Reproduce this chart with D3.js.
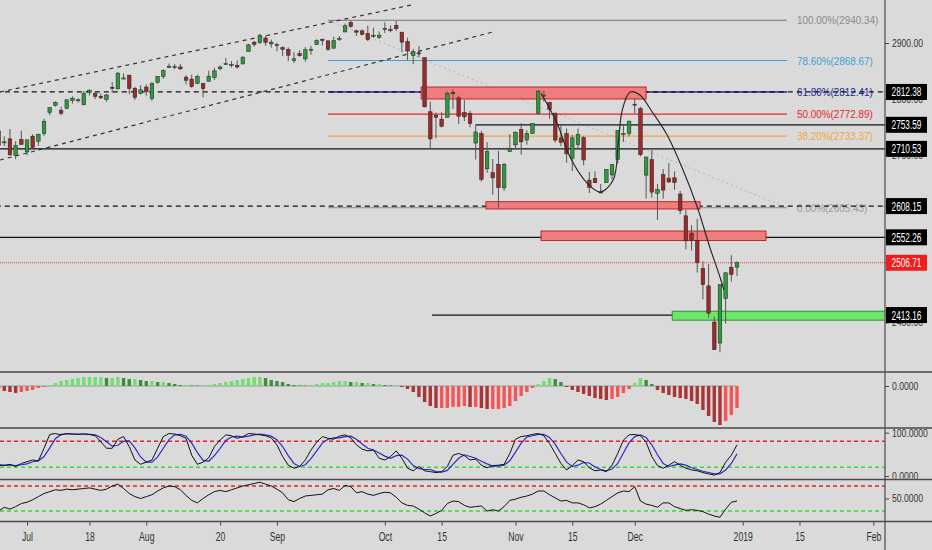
<!DOCTYPE html>
<html lang="en">
 <head>
  <meta charset="UTF-8">
  <title>SPX daily</title>
  <style>
   body { margin: 0; background: #dadada; overflow: hidden; }
   svg { display: block; }
   text { font-family: "Liberation Sans", Arial, sans-serif; }
  </style>
 </head>
 <body>
<svg id="chart" width="932" height="550"></svg>

<script src="https://d3js.org/d3.v7.min.js" charset="utf-8"></script>
<script>

// ---- data (daily bars, Jun 25 2018 .. Dec 31 2018) ----
var dates = ["06-25","06-26","06-27","06-28","06-29",
 "07-02","07-03","07-05","07-06","07-09","07-10","07-11","07-12","07-13","07-16",
 "07-17","07-18","07-19","07-20","07-23","07-24","07-25","07-26","07-27","07-30",
 "07-31","08-01","08-02","08-03","08-06","08-07","08-08","08-09","08-10","08-13",
 "08-14","08-15","08-16","08-17","08-20","08-21","08-22","08-23","08-24","08-27",
 "08-28","08-29","08-30","08-31","09-04","09-05","09-06","09-07","09-10","09-11",
 "09-12","09-13","09-14","09-17","09-18","09-19","09-20","09-21","09-24","09-25",
 "09-26","09-27","09-28","10-01","10-02","10-03","10-04","10-05","10-08","10-09",
 "10-10","10-11","10-12","10-15","10-16","10-17","10-18","10-19","10-22","10-23",
 "10-24","10-25","10-26","10-29","10-30","10-31","11-01","11-02","11-05","11-06",
 "11-07","11-08","11-09","11-12","11-13","11-14","11-15","11-16","11-19","11-20",
 "11-21","11-23","11-26","11-27","11-28","11-29","11-30","12-03","12-04","12-06",
 "12-07","12-10","12-11","12-12","12-13","12-14","12-17","12-18","12-19","12-20",
 "12-21","12-24","12-26","12-27","12-28","12-31"];

var opens = [2742.9,2722.1,2728.5,2698.7,2727.1,
 2705.0,2733.3,2724.2,2737.7,2775.6,2788.6,2779.8,2783.1,2796.9,2797.4,
 2789.3,2811.4,2809.4,2804.6,2799.2,2820.7,2817.7,2835.5,2842.4,2819.0,
 2809.7,2821.2,2800.5,2829.6,2840.3,2855.9,2856.8,2857.2,2838.9,2835.5,
 2827.9,2828.0,2831.4,2838.3,2853.9,2861.5,2861.0,2860.3,2862.4,2884.7,
 2901.5,2900.6,2908.9,2898.4,2897.0,2891.6,2888.6,2868.3,2881.4,2871.6,
 2888.3,2896.9,2906.4,2903.8,2890.7,2906.6,2919.7,2936.8,2921.8,2921.8,
 2917.0,2911.7,2910.0,2926.3,2923.8,2931.7,2919.4,2902.5,2877.5,2882.5,
 2873.9,2776.9,2770.5,2763.8,2767.1,2811.7,2802.0,2775.7,2773.9,2721.0,
 2737.9,2674.9,2667.9,2682.7,2640.7,2705.6,2717.6,2745.5,2726.4,2738.4,
 2774.1,2806.4,2794.1,2773.9,2730.1,2737.9,2693.5,2718.5,2730.7,2654.6,
 2657.7,2633.4,2650.0,2663.8,2691.5,2737.0,2737.8,2790.5,2782.4,2663.5,
 2691.3,2630.9,2664.4,2658.2,2658.7,2629.7,2590.8,2559.9,2547.1,2496.8,
 2465.4,2400.6,2363.1,2442.5,2498.8,2498.9];

var highs = [2742.9,2732.9,2746.1,2724.3,2743.3,
 2727.3,2736.6,2737.8,2764.4,2784.7,2795.6,2785.9,2799.2,2804.5,2801.2,
 2814.2,2816.8,2812.1,2809.7,2808.6,2830.0,2848.0,2845.6,2843.2,2821.7,
 2824.5,2825.8,2829.9,2840.4,2853.3,2863.4,2862.4,2862.5,2842.2,2843.4,
 2843.1,2828.0,2850.5,2855.6,2859.8,2873.2,2867.5,2868.8,2876.2,2898.3,
 2903.8,2916.5,2912.5,2906.3,2900.2,2894.2,2892.1,2883.8,2886.9,2892.5,
 2894.7,2906.8,2908.3,2904.7,2911.2,2912.4,2934.8,2940.9,2923.8,2924.0,
 2931.2,2927.2,2920.5,2937.1,2931.4,2939.9,2919.8,2909.6,2889.5,2894.8,
 2874.0,2795.1,2775.8,2776.0,2813.5,2816.9,2806.0,2797.8,2778.9,2753.6,
 2742.6,2722.7,2692.4,2706.9,2685.4,2736.7,2741.7,2756.6,2744.3,2756.8,
 2815.2,2814.8,2794.1,2776.0,2754.6,2746.8,2735.4,2746.8,2733.2,2669.4,
 2670.7,2647.6,2674.4,2682.5,2744.0,2753.8,2760.9,2800.2,2785.9,2696.2,
 2708.5,2647.5,2674.4,2685.4,2670.2,2635.1,2601.1,2574.0,2585.3,2509.6,
 2504.4,2410.3,2467.8,2489.1,2520.3,2509.2];

var lows = [2698.7,2715.6,2699.4,2692.0,2718.0,
 2699.0,2711.2,2716.0,2733.5,2770.7,2786.2,2770.8,2781.5,2791.7,2793.4,
 2789.2,2805.9,2799.8,2800.0,2795.1,2811.1,2817.7,2835.3,2808.3,2798.1,
 2808.1,2805.9,2796.3,2827.4,2836.0,2855.9,2853.1,2852.0,2825.8,2819.9,
 2826.6,2802.5,2831.4,2833.7,2850.6,2861.3,2856.1,2854.0,2862.4,2884.7,
 2893.5,2898.4,2895.2,2891.7,2885.1,2876.9,2867.3,2864.1,2875.9,2866.8,
 2879.2,2896.4,2895.8,2886.2,2890.4,2903.8,2919.7,2927.1,2912.6,2913.7,
 2903.3,2909.3,2907.5,2917.9,2919.4,2921.4,2883.9,2869.3,2862.1,2874.3,
 2784.9,2710.5,2729.4,2749.0,2766.9,2781.8,2755.2,2760.3,2749.2,2691.4,
 2651.9,2667.8,2628.2,2603.5,2635.3,2705.6,2708.9,2700.4,2717.9,2737.1,
 2774.1,2795.0,2764.2,2722.0,2715.0,2685.8,2670.8,2712.2,2681.1,2631.5,
 2649.8,2631.1,2650.0,2655.9,2684.4,2722.9,2732.8,2773.4,2697.2,2621.5,
 2623.1,2583.2,2621.3,2650.3,2637.3,2593.8,2530.5,2528.7,2489.0,2441.2,
 2408.6,2351.1,2346.6,2397.9,2472.9,2482.8];

var closes = [2717.1,2723.1,2699.6,2716.3,2718.4,
 2726.7,2713.2,2736.6,2759.8,2784.2,2793.8,2774.0,2798.3,2801.3,2798.4,
 2809.6,2815.6,2804.5,2801.8,2807.0,2820.4,2846.1,2837.4,2818.8,2802.6,
 2816.3,2813.4,2827.2,2840.4,2850.4,2858.5,2857.7,2853.6,2833.3,2821.9,
 2840.0,2818.4,2840.7,2850.1,2857.1,2863.0,2861.8,2857.0,2874.7,2896.7,
 2897.5,2914.0,2901.1,2901.5,2896.7,2888.6,2878.1,2871.7,2877.1,2887.9,
 2888.9,2904.2,2905.0,2888.8,2904.3,2908.0,2930.8,2929.7,2919.4,2915.6,
 2906.0,2914.0,2914.0,2924.6,2923.4,2925.5,2901.6,2885.6,2884.4,2880.3,
 2785.7,2728.4,2767.1,2750.8,2809.9,2809.2,2768.8,2767.8,2755.9,2740.7,
 2656.1,2705.6,2658.7,2641.3,2682.6,2711.7,2740.4,2723.1,2738.3,2755.5,
 2813.9,2806.8,2781.0,2726.2,2722.2,2701.6,2730.2,2736.3,2690.7,2641.9,
 2649.9,2632.6,2673.5,2682.2,2743.8,2737.8,2760.2,2790.4,2700.1,2696.0,
 2633.1,2637.7,2636.8,2651.1,2650.5,2600.0,2545.9,2546.2,2507.0,2467.4,
 2416.6,2351.1,2467.7,2488.8,2485.7,2506.9];

// MACD histogram, stochastic %K / %D, RSI (one value per bar)
var macdHist = [-3,-5,-6,-7,-6,
 -5,-4,-2,-1,1,3,5,6,7,8,
 9,9,9,9,8,8,9,8,7,7,
 6,5,5,4,4,3,2,1,1,0.5,
 0.3,0.5,1,2,3,4,5,6,7,8,
 9,9,8,6,5,4,2,1,0.5,0.3,
 1,2,3,3,4,5,5,4,4,3,
 3,2,2,1,0.5,0.5,-1,-3,-6,-11,
 -16,-20,-22,-22,-22,-21,-21,-20,-21,-21,
 -22,-23,-23,-23,-22,-20,-15,-10,-6,-2,
 2,5,8,7,4,-1,-4,-6,-8,-10,
 -12,-13,-14,-13,-11,-7,-3,3,8,6,
 2,-4,-7,-9,-11,-12,-13,-15,-18,-24,
 -30,-36,-39,-35,-29,-22];

var stochK = [25,24,27,22,29,
 33,37,35,64,96,98,95,98,97,96,
 97,96,93,79,64,64,85,91,68,37,
 27,32,37,64,91,98,97,93,87,48,
 27,32,42,68,83,95,93,87,91,98,
 97,95,93,88,72,45,25,18,22,37,
 60,78,91,87,85,92,95,88,72,62,
 58,60,41,37,45,58,41,18,12,22,
 12,10,8,10,22,48,52,47,37,39,
 25,19,24,25,27,52,85,91,93,96,
 98,93,75,52,29,14,24,37,33,19,
 12,14,10,25,52,83,95,96,93,78,
 45,24,18,25,33,25,18,14,12,8,
 5,2,8,32,48,72];

var stochD = [26,25,25,24,26,
 28,33,35,45,65,86,96,97,97,97,
 97,96,95,89,79,69,71,80,81,65,
 44,32,32,44,64,84,95,96,92,76,
 54,36,34,47,64,82,90,92,90,92,
 95,97,95,92,84,68,47,29,22,26,
 40,58,76,85,88,88,91,92,85,74,
 64,60,53,46,41,47,48,39,24,17,
 15,15,10,9,13,27,41,49,45,41,
 34,28,23,23,25,35,55,76,90,93,
 96,96,89,73,52,32,22,25,31,30,
 21,15,12,16,29,53,77,91,95,89,
 72,49,29,22,25,28,25,19,15,11,
 8,5,5,14,29,51];

var rsi = [30,36,33,37,42,
 44,48,53,58,61,64,63,65,64,65,
 66,67,65,63,65,70,73,66,58,53,
 50,53,56,62,67,70,69,64,55,47,
 43,50,56,61,63,61,64,67,70,72,
 74,76,73,70,65,59,48,45,50,54,
 55,56,57,64,66,63,71,69,59,61,
 57,55,58,60,59,52,43,39,38,33,
 27,22,26,31,42,46,45,39,36,37,
 38,30,32,30,37,47,49,52,54,57,
 62,62,56,51,46,47,43,43,40,35,
 37,41,47,53,59,62,61,69,46,41,
 39,36,43,43,37,34,31,32,31,29,
 25,22,20,33,44,46];

// time axis labels (bar positions, future bars counted as weekdays)
var tickPos  = [5, 16, 26, 39, 49, 68, 78, 91, 101, 112, 131, 141, 154];
var tickText = ["Jul","18","Aug","20","Sep","Oct","15","Nov","15","Dec","2019","15","Feb"];
// 2500 / 2600 sit fully under the level boxes, so only these show
var priceTicks = [2400, 2700, 2800, 2900];

// fibonacci retracement drawn between two anchors
var fibStart = 58.0, fibEnd = 138.8;
var fibRatios = [1, 0.786, 0.618, 0.5, 0.382, 0];
var fibPrices = [2940.34, 2868.67, 2812.41, 2772.89, 2733.37, 2605.43];

// horizontal levels (price, first bar where the line starts)
var levelPrices = [2812.38, 2753.59, 2710.53, 2608.15, 2552.26, 2413.16];
var levelStart  = [-10, 84, -10, -10, -10, 76.3];
var lastPrice = 2506.71;

// zones [startBar, endBar, lowPrice, highPrice]
var redZones = [[74.4, 114.0, 2799.8, 2821.2], [85.8, 123.5, 2603, 2616], [95.5, 135.1, 2546.5, 2563.5]];
var greenZones = [[118.6, 160, 2404, 2420]];

// rising channel
var channelUpper = [[0.25, 2812.3], [72.96, 2968.6]];
var channelLower = [[0.25, 2690.6], [87.0, 2919.7]];

// hand drawn curve
var curvePos = [95.5, 98.3, 100.6, 103.6, 105.9, 108.2, 109.1, 109.8, 111.2, 112.9, 115.2, 117.7, 120.5, 123.0, 125.2, 127.0, 127.7];
var curvePx  = [2810, 2756.8, 2695.9, 2649.4, 2633.3, 2654.8, 2721, 2780, 2812.3, 2806.9, 2774.7, 2735.3, 2672.7, 2606.5, 2534.9, 2481.2, 2457.9];

// ---- layout ----
var svg = d3.select("#chart");
var plotR = 885;
var pMain = [0, 372], pMacd = [372, 428], pSto = [428, 479.5], pRsi = [479.5, 521.5];

var x = d3.scaleLinear().domain([5, 130]).range([27, 737]);
var y = d3.scaleLinear().domain([2400, 2900]).range([322.4, 43]);
var yMacd = d3.scaleLinear().domain([-39, 0]).range([425, 386]);
var ySto = d3.scaleLinear().domain([0, 100]).range([476, 432.7]);
var yRsi = d3.scaleLinear().domain([30, 70]).range([511, 486]);

svg.append("rect").attr("width", 932).attr("height", 550).attr("fill", "#dadada");

var defs = svg.append("defs");
function clip(id, x0, y0, w, h) {
  defs.append("clipPath").attr("id", id).append("rect")
    .attr("x", x0).attr("y", y0).attr("width", w).attr("height", h);
}
clip("cMain", 0, 0, plotR, pMain[1] - 1);
clip("cMacd", 0, pMacd[0] + 1, plotR, pMacd[1] - pMacd[0] - 2);
clip("cSto", 0, pSto[0] + 1, plotR, pSto[1] - pSto[0] - 2);
clip("cRsi", 0, pRsi[0] + 1, plotR, pRsi[1] - pRsi[0] - 2);
clip("aMain", plotR, 0, 60, pMain[1] - 1);
clip("aMacd", plotR, pMacd[0] + 1, 60, pMacd[1] - pMacd[0] - 2);
clip("aSto", plotR, pSto[0] + 1, 60, pSto[1] - pSto[0] - 2);
clip("aRsi", plotR, pRsi[0] + 1, 60, pRsi[1] - pRsi[0] - 2);

var main = svg.append("g").attr("clip-path", "url(#cMain)");

// fibonacci
var fibColors = ["#8a8a8a", "#3d9fd8", "#2323a0", "#e52626", "#f2a640", "#9a9a9a"];
main.append("line")
  .attr("x1", x(fibStart)).attr("y1", y(fibPrices[0]))
  .attr("x2", x(fibEnd)).attr("y2", y(fibPrices[5]))
  .attr("stroke", "#b4b4b4").attr("stroke-width", 1).attr("stroke-dasharray", "2,3");
fibPrices.forEach(function(p, i) {
  main.append("line")
    .attr("x1", x(fibStart)).attr("x2", x(fibEnd))
    .attr("y1", y(p)).attr("y2", y(p))
    .attr("stroke", fibColors[i]).attr("stroke-width", i == 2 ? 1.5 : 1.2);
  main.append("text")
    .attr("transform", "translate(" + (x(fibEnd) + 10) + "," + (y(p) + 4) + ") scale(0.9,1)")
    .attr("font-size", 11).attr("fill", fibColors[i])
    .text((fibRatios[i] * 100).toFixed(2) + "%(" + p.toFixed(2) + ")");
});

// horizontal levels
levelPrices.forEach(function(p, i) {
  var dashed = (i == 0 || i == 3);
  main.append("line")
    .attr("x1", x(levelStart[i])).attr("x2", plotR)
    .attr("y1", y(p)).attr("y2", y(p))
    .attr("stroke", "#111").attr("stroke-width", dashed ? 1.2 : 1.3)
    .attr("stroke-dasharray", dashed ? "5,4" : null);
});
main.append("line")
  .attr("x1", 0).attr("x2", plotR).attr("y1", y(lastPrice)).attr("y2", y(lastPrice))
  .attr("stroke", "#f03030").attr("stroke-width", 1).attr("stroke-dasharray", "1,1");

// zones
main.selectAll(".rz").data(redZones).enter().append("rect")
  .attr("x", function(d) { return x(d[0]); })
  .attr("width", function(d) { return x(d[1]) - x(d[0]); })
  .attr("y", function(d) { return y(d[3]); })
  .attr("height", function(d) { return y(d[2]) - y(d[3]); })
  .attr("fill", "#f07c7c").attr("stroke", "#b82828").attr("stroke-width", 1);
main.selectAll(".gz").data(greenZones).enter().append("rect")
  .attr("x", function(d) { return x(d[0]); })
  .attr("width", function(d) { return x(d[1]) - x(d[0]); })
  .attr("y", function(d) { return y(d[3]); })
  .attr("height", function(d) { return y(d[2]) - y(d[3]); })
  .attr("fill", "#6ee66e").attr("stroke", "#249a24").attr("stroke-width", 1);

// channel
[channelUpper, channelLower].forEach(function(c) {
  main.append("line")
    .attr("x1", x(c[0][0])).attr("y1", y(c[0][1]))
    .attr("x2", x(c[1][0])).attr("y2", y(c[1][1]))
    .attr("stroke", "#333").attr("stroke-width", 1.2).attr("stroke-dasharray", "4,4");
});

// candles
var bars = dates.map(function(d, i) {
  return { pos: i, o: opens[i], h: highs[i], l: lows[i], c: closes[i] };
});
var cg = main.selectAll(".bar").data(bars).enter().append("g");
cg.append("line")
  .attr("x1", function(d) { return x(d.pos); }).attr("x2", function(d) { return x(d.pos); })
  .attr("y1", function(d) { return y(d.h); }).attr("y2", function(d) { return y(d.l); })
  .attr("stroke", "#555").attr("stroke-width", 1);
cg.append("rect")
  .attr("x", function(d) { return x(d.pos) - 1.8; })
  .attr("width", 3.6)
  .attr("y", function(d) { return y(Math.max(d.o, d.c)); })
  .attr("height", function(d) { return Math.max(1, Math.abs(y(d.o) - y(d.c))); })
  .attr("fill", function(d) { return d.c >= d.o ? "#2f9a3c" : "#9c2a2a"; })
  .attr("stroke", "#222").attr("stroke-width", 0.5);

// curve
var curvePts = curvePos.map(function(p, i) { return [x(p), y(curvePx[i])]; });
main.append("path")
  .attr("d", d3.line().curve(d3.curveCatmullRom)(curvePts))
  .attr("fill", "none").attr("stroke", "#222").attr("stroke-width", 1.1);

// ---- MACD histogram ----
var mg = svg.append("g").attr("clip-path", "url(#cMacd)");
mg.append("line").attr("x1", x(0)).attr("x2", x(130)).attr("y1", yMacd(0)).attr("y2", yMacd(0))
  .attr("stroke", "#9a9a9a").attr("stroke-width", 1);
mg.selectAll(".h").data(macdHist).enter().append("rect")
  .attr("x", function(d, i) { return x(i) - 1.7; })
  .attr("width", 3.4)
  .attr("y", function(d) { return yMacd(Math.max(0, d)); })
  .attr("height", function(d) { return Math.abs(yMacd(d) - yMacd(0)); })
  .attr("fill", function(d, i) {
    var prev = i > 0 ? macdHist[i - 1] : d;
    if (d >= 0) return d >= prev ? "#6fe06f" : "#3e8e3e";
    return d >= prev ? "#f25656" : "#a83636";
  });

// ---- Stochastic ----
var sg = svg.append("g").attr("clip-path", "url(#cSto)");
[80, 20].forEach(function(v, i) {
  sg.append("line").attr("x1", 0).attr("x2", plotR).attr("y1", ySto(v)).attr("y2", ySto(v))
    .attr("stroke", i == 0 ? "#e52222" : "#2ee02e").attr("stroke-width", 1.5).attr("stroke-dasharray", "4,3");
});
var lineSto = d3.line().x(function(d, i) { return x(i); }).y(function(d) { return ySto(d); });
sg.append("path").attr("d", lineSto(stochD)).attr("fill", "none").attr("stroke", "#2a2ad0").attr("stroke-width", 1.2);
sg.append("path").attr("d", lineSto(stochK)).attr("fill", "none").attr("stroke", "#111").attr("stroke-width", 1);

// ---- RSI ----
var rg = svg.append("g").attr("clip-path", "url(#cRsi)");
[70, 30].forEach(function(v, i) {
  rg.append("line").attr("x1", 0).attr("x2", plotR).attr("y1", yRsi(v)).attr("y2", yRsi(v))
    .attr("stroke", i == 0 ? "#e52222" : "#2ee02e").attr("stroke-width", 1.5).attr("stroke-dasharray", "4,3");
});
var lineRsi = d3.line().x(function(d, i) { return x(i); }).y(function(d) { return yRsi(d); });
rg.append("path").attr("d", lineRsi(rsi)).attr("fill", "none").attr("stroke", "#111").attr("stroke-width", 1);

// ---- axes ----
function rightAxis(scale, vals, fmt, clipId) {
  var g = svg.append("g").attr("transform", "translate(" + plotR + ",0)");
  var inner = g.append("g").attr("clip-path", "url(#" + clipId + ")")
    .attr("transform", "translate(" + (-plotR) + ",0)")
    .append("g").attr("transform", "translate(" + plotR + ",0)");
  inner.call(d3.axisRight(scale).tickValues(vals).tickFormat(fmt).tickSize(4).tickPadding(3));
  inner.select(".domain").remove();
  inner.selectAll(".tick line").attr("stroke", "#444");
  inner.selectAll(".tick text")
    .attr("font-family", "Liberation Sans, Arial, sans-serif")
    .attr("font-size", 10.5).attr("fill", "#333")
    .attr("x", 8.5).attr("transform", "scale(0.82,1)");
  return g;
}
rightAxis(y, priceTicks, d3.format(".2f"), "aMain");
rightAxis(yMacd, [0], d3.format(".4f"), "aMacd");
rightAxis(ySto, [0, 100], d3.format(".4f"), "aSto");
rightAxis(yRsi, [50], d3.format(".4f"), "aRsi");

// price boxes on the right axis
function priceBox(p, fill) {
  var yy = y(p);
  svg.append("line").attr("x1", plotR).attr("x2", plotR + 4).attr("y1", yy).attr("y2", yy).attr("stroke", "#444");
  svg.append("rect").attr("x", plotR + 1).attr("y", yy - 8).attr("width", 41).attr("height", 16).attr("fill", fill);
  svg.append("text")
    .attr("transform", "translate(" + (plotR + 21.5) + "," + (yy + 4.5) + ") scale(0.66,1)")
    .attr("text-anchor", "middle").attr("font-size", 12.5).attr("fill", "#fff")
    .text(p.toFixed(2));
}
levelPrices.forEach(function(p) { priceBox(p, "#000"); });
priceBox(lastPrice, "#f21c1c");

// time axis
var xg = svg.append("g").attr("transform", "translate(0," + pRsi[1] + ")");
xg.call(d3.axisBottom(x).tickValues(tickPos).tickFormat(function(d, i) { return tickText[i]; }).tickSize(4).tickPadding(7));
xg.select(".domain").remove();
xg.selectAll(".tick line").attr("stroke", "#444");
xg.selectAll(".tick text")
  .attr("font-family", "Liberation Sans, Arial, sans-serif")
  .attr("font-size", 12).attr("fill", "#333")
  .attr("transform", "scale(0.72,1)");

// pane borders
[pMain[1], pMacd[1], pSto[1], pRsi[1]].forEach(function(yy) {
  svg.append("line").attr("x1", 0).attr("x2", 932).attr("y1", yy).attr("y2", yy)
    .attr("stroke", "#4a4a4a").attr("stroke-width", 1.6);
});
svg.append("line").attr("x1", plotR).attr("x2", plotR).attr("y1", 0).attr("y2", 550)
  .attr("stroke", "#4a4a4a").attr("stroke-width", 1.2);

</script>
 </body>
</html>
